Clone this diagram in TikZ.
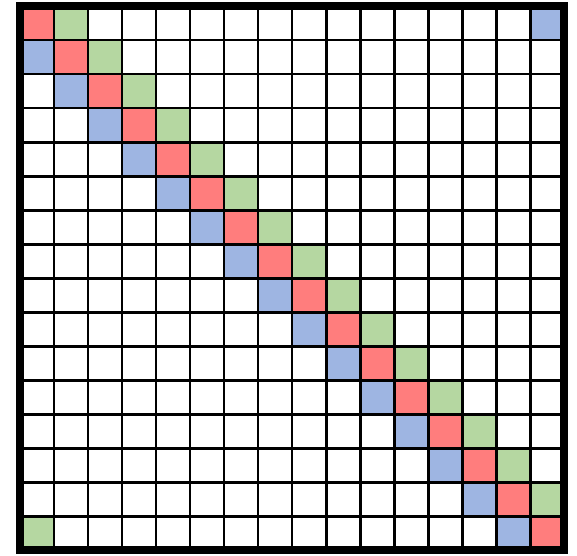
\documentclass[tikz,border=0pt]{standalone}
\definecolor{cred}{HTML}{FF7D7D}
\definecolor{cgreen}{HTML}{B5D7A1}
\definecolor{cblue}{HTML}{9EB5E2}
\tikzset{gridline/.style={line width=1.7pt,black},
  frameline/.style={line width=4.4pt,black}}
\begin{document}
\begin{tikzpicture}[x=0.02cm,y=-0.02cm]
\useasboundingbox (0,0) rectangle (577,555);
\fill[white] (0,0) rectangle (577,555);
% coloured cells (row i, column j): cell at (20+34j, 6+34i)
\foreach \i in {0,...,15}{
  \fill[cred] ({20+34*\i},{6+34*\i}) rectangle ++(34,34);
}
\foreach \i in {0,...,14}{
  \fill[cgreen] ({20+34*(\i+1)},{6+34*\i}) rectangle ++(34,34);
  \fill[cblue] ({20+34*\i},{6+34*(\i+1)}) rectangle ++(34,34);
}
\fill[cblue] ({20+34*15},6) rectangle ++(34,34);
\fill[cgreen] (20,{6+34*15}) rectangle ++(34,34);
% grid
\foreach \k in {1,...,15}{
  \draw[gridline] ({20+34*\k},6) -- ({20+34*\k},550);
  \draw[gridline] (20,{6+34*\k}) -- (564,{6+34*\k});
}
\draw[frameline] (20,6) rectangle (564,550);
\end{tikzpicture}
\end{document}
